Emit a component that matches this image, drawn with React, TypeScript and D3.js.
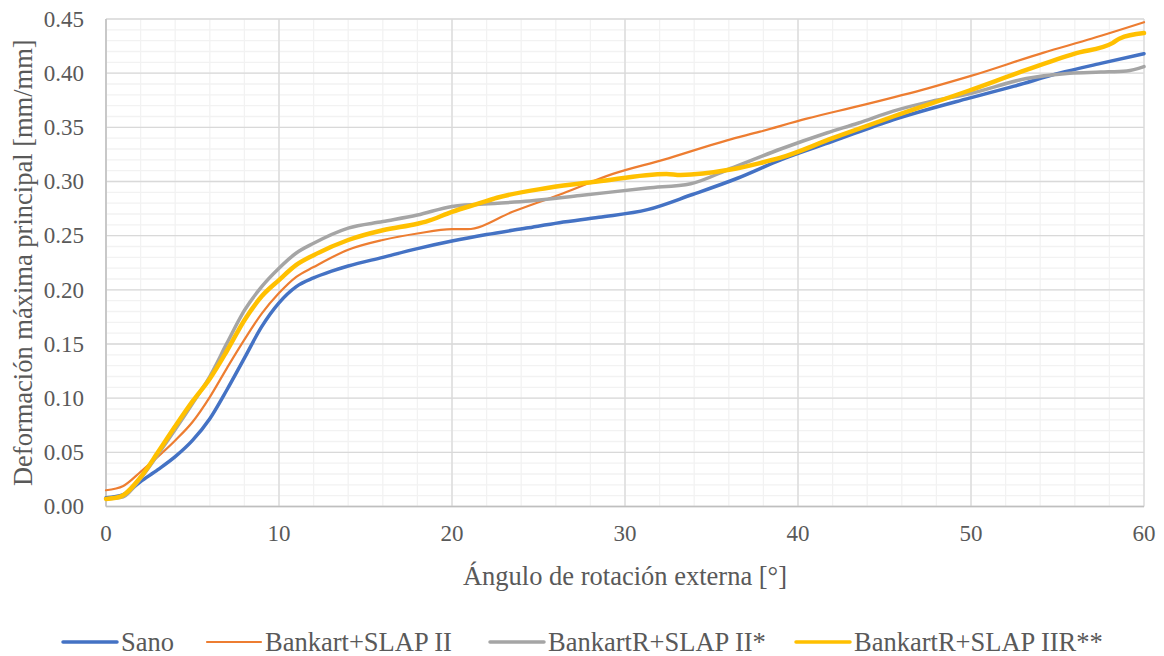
import React from "react";
import * as d3 from "d3";

// [angle, strain] pairs
const sano: [number, number][] = [
  [0, 0.008], [1, 0.011], [2, 0.023], [3, 0.034], [4, 0.046], [5, 0.061], [6, 0.081],
  [7, 0.108], [8, 0.137], [9, 0.166], [10, 0.188], [11, 0.203], [12, 0.211], [13, 0.217],
  [14, 0.222], [16, 0.23], [18, 0.238], [20, 0.245], [22, 0.251], [24.3, 0.257],
  [26.2, 0.262], [28.5, 0.267], [31.3, 0.274], [33.9, 0.288], [36.5, 0.303], [39, 0.32],
  [42, 0.337], [45.5, 0.357], [49.9, 0.377], [52.5, 0.388], [55.1, 0.4], [57.5, 0.409],
  [60, 0.418],
];

const bankart: [number, number][] = [
  [0, 0.015], [1, 0.019], [2, 0.032], [3, 0.046], [4, 0.061], [5, 0.078], [6, 0.101],
  [7, 0.128], [8, 0.154], [9, 0.178], [10, 0.197], [11, 0.212], [12, 0.221], [14, 0.237],
  [16, 0.246], [18, 0.252], [20, 0.256], [20.9, 0.256], [23.5, 0.272], [26.4, 0.289],
  [29.3, 0.307], [32.2, 0.32], [35.9, 0.338], [37.8, 0.346], [40.5, 0.358], [43.6, 0.37],
  [47.5, 0.386], [49.9, 0.397], [54.2, 0.419], [57, 0.432], [60, 0.447],
];

const bankartR: [number, number][] = [
  [0, 0.007], [1, 0.009], [2, 0.026], [3, 0.048], [4, 0.071], [5, 0.095], [6, 0.12],
  [7, 0.151], [8, 0.181], [9, 0.203], [10, 0.22], [11, 0.234], [12, 0.243], [14, 0.257],
  [16, 0.263], [18, 0.269], [20, 0.277], [21.6, 0.279], [24.5, 0.282], [27.4, 0.287],
  [31.3, 0.294], [33.8, 0.298], [36.1, 0.312], [39, 0.33], [41.7, 0.345], [43.5, 0.354],
  [45.5, 0.365], [47.7, 0.374], [49.9, 0.381], [53.2, 0.395], [55.7, 0.4], [57.5, 0.401],
  [59, 0.402], [60, 0.406],
];

const bankartRR: [number, number][] = [
  [0, 0.007], [0.8, 0.009], [2, 0.027], [3, 0.05], [4, 0.074], [5, 0.097], [6, 0.118],
  [7, 0.144], [8, 0.172], [9, 0.194], [10, 0.209], [11, 0.223], [12, 0.232], [14, 0.246],
  [16, 0.255], [18, 0.261], [18.5, 0.263], [20, 0.272], [21.6, 0.28], [22.6, 0.285],
  [25.5, 0.294], [28.4, 0.3], [32.4, 0.307], [33.2, 0.306], [36.1, 0.311], [37.8, 0.317],
  [39, 0.322], [42, 0.34], [45.5, 0.36], [49.9, 0.384], [53.2, 0.403], [56, 0.418],
  [58.2, 0.428], [58.6, 0.432], [60, 0.437],
];

const seriesNames = ["Sano", "Bankart+SLAP II", "BankartR+SLAP II*", "BankartR+SLAP IIR**"];
const seriesColors = ["#4472C4", "#ED7D31", "#A5A5A5", "#FFC000"];
const seriesWidths = [3.5, 2.2, 3.5, 4.5];
const seriesData = [sano, bankart, bankartR, bankartRR];

const xTicks = [0, 10, 20, 30, 40, 50, 60];
const yTicks = [0, 0.05, 0.1, 0.15, 0.2, 0.25, 0.3, 0.35, 0.4, 0.45];
const xMinor = d3.range(0, 61, 2);
const yMinor = d3.range(0, 46, 1).map((d) => d / 100);

const W = 1164;
const H = 656;
const FONT = "Liberation Serif";
const TEXT = "#595959";

const x = d3.scaleLinear().domain([0, 60]).range([106, 1144]);
const y = d3.scaleLinear().domain([0, 0.45]).range([506.5, 19]);

const line = d3
  .line<[number, number]>()
  .x((d) => x(d[0]))
  .y((d) => y(d[1]))
  .curve(d3.curveMonotoneX);

const legendX = [63, 207, 490, 796];

const App = () => {
  const textStyle = (size: number) => ({ fontFamily: FONT, fontSize: `${size}px`, fill: TEXT });
  return (
    <svg
      width={W}
      height={H}
      style={{ position: "absolute", left: 0, top: 0, background: "#fff" }}
    >
      {/* minor grid */}
      {xMinor.map((d) => (
        <line key={`vx${d}`} x1={x(d)} x2={x(d)} y1={y(0)} y2={y(0.45)} stroke="#F2F2F2" strokeWidth={1.3} />
      ))}
      {yMinor.map((d) => (
        <line key={`hy${d}`} x1={x(0)} x2={x(60)} y1={y(d)} y2={y(d)} stroke="#F2F2F2" strokeWidth={1.3} />
      ))}
      {/* major grid */}
      {xTicks.map((d) => (
        <line key={`VX${d}`} x1={x(d)} x2={x(d)} y1={y(0)} y2={y(0.45)} stroke="#D9D9D9" strokeWidth={1.3} />
      ))}
      {yTicks.map((d) => (
        <line key={`HY${d}`} x1={x(0)} x2={x(60)} y1={y(d)} y2={y(d)} stroke="#D9D9D9" strokeWidth={1.3} />
      ))}
      <line x1={x(0)} x2={x(60)} y1={y(0)} y2={y(0)} stroke="#BFBFBF" strokeWidth={1.5} />
      <line x1={x(0)} x2={x(0)} y1={y(0)} y2={y(0.45)} stroke="#BFBFBF" strokeWidth={1.5} />

      {/* tick labels */}
      {xTicks.map((d) => (
        <text key={`xt${d}`} x={x(d)} y={541} textAnchor="middle" style={textStyle(23)}>
          {d}
        </text>
      ))}
      {yTicks.map((d) => (
        <text key={`yt${d}`} x={84} y={y(d) + 7.8} textAnchor="end" style={textStyle(23)}>
          {d.toFixed(2)}
        </text>
      ))}

      {/* axis titles */}
      <text x={(x(0) + x(60)) / 2} y={585} textAnchor="middle" style={textStyle(26.5)}>
        Ángulo de rotación externa [°]
      </text>
      <text
        transform={`translate(32,${(y(0) + y(0.45)) / 2}) rotate(-90)`}
        textAnchor="middle"
        style={textStyle(26.5)}
      >
        Deformación máxima principal [mm/mm]
      </text>

      {/* series */}
      {seriesData.map((data, i) => (
        <path
          key={seriesNames[i]}
          d={line(data) ?? ""}
          fill="none"
          stroke={seriesColors[i]}
          strokeWidth={seriesWidths[i]}
          strokeLinejoin="round"
          strokeLinecap="round"
        />
      ))}

      {/* legend */}
      {seriesNames.map((name, i) => (
        <g key={`lg${name}`} transform={`translate(${legendX[i]},642)`}>
          <line x1={0} x2={54} y1={0} y2={0} stroke={seriesColors[i]} strokeWidth={Math.min(seriesWidths[i], 3.5)} strokeLinecap="round" />
          <text x={58} y={9} style={textStyle(26.5)}>
            {name}
          </text>
        </g>
      ))}
    </svg>
  );
};

export default App;
